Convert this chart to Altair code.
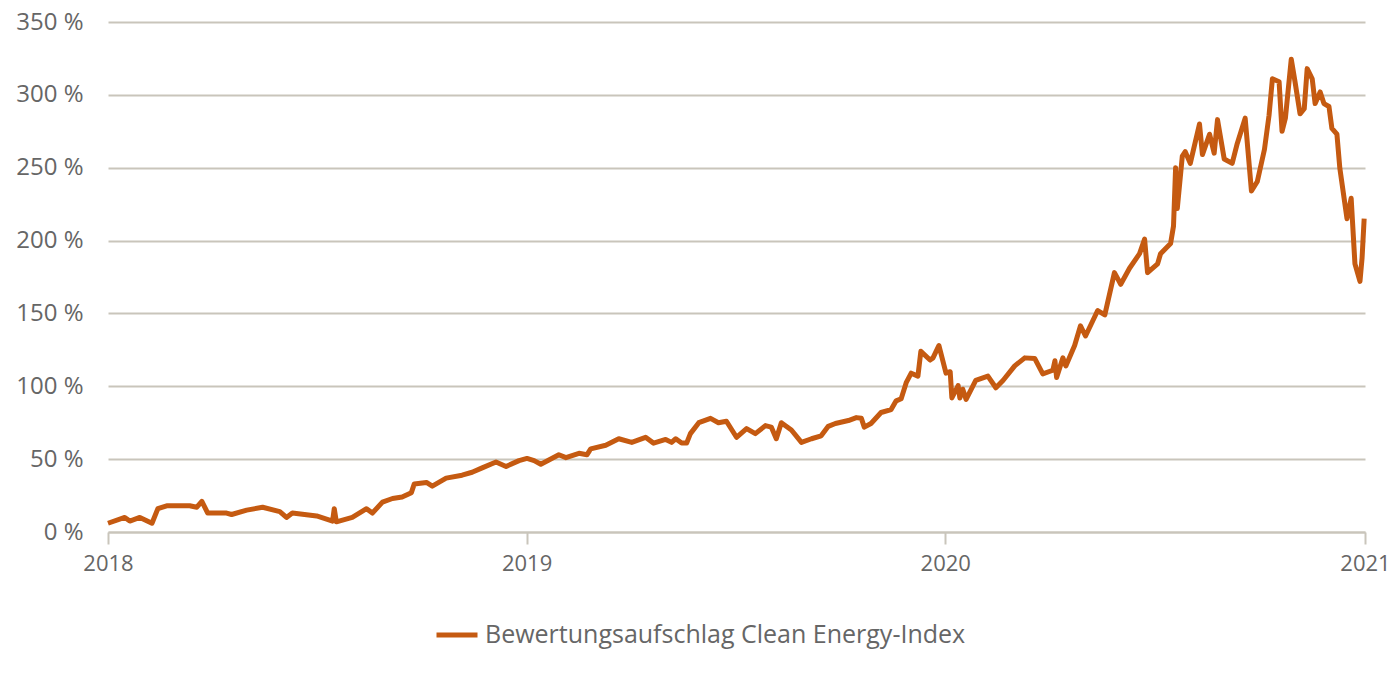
import altair as alt
import pandas as pd
import numpy as np

# x position read as decimal years, value in %
years = [
    2018.000, 2018.040, 2018.052, 2018.076, 2018.105, 2018.119, 2018.140, 2018.195, 2018.212, 2018.224,
    2018.238, 2018.283, 2018.295, 2018.331, 2018.369, 2018.410, 2018.426, 2018.440, 2018.498, 2018.536,
    2018.540, 2018.545, 2018.583, 2018.617, 2018.631, 2018.655, 2018.679, 2018.702, 2018.724, 2018.731,
    2018.760, 2018.774, 2018.807, 2018.845, 2018.869, 2018.893, 2018.926, 2018.950, 2018.981, 2019.000,
    2019.017, 2019.033, 2019.076, 2019.093, 2019.124, 2019.143, 2019.152, 2019.188, 2019.219, 2019.250,
    2019.283, 2019.302, 2019.331, 2019.345, 2019.355, 2019.369, 2019.381, 2019.390, 2019.410, 2019.438,
    2019.457, 2019.476, 2019.500, 2019.524, 2019.545, 2019.569, 2019.583, 2019.595, 2019.607, 2019.631,
    2019.655, 2019.679, 2019.702, 2019.719, 2019.736, 2019.767, 2019.786, 2019.798, 2019.805, 2019.821,
    2019.845, 2019.869, 2019.881, 2019.893, 2019.905, 2019.917, 2019.933, 2019.940, 2019.962, 2019.969,
    2019.983, 2020.000, 2020.010, 2020.014, 2020.029, 2020.033, 2020.040, 2020.048, 2020.071, 2020.100,
    2020.119, 2020.136, 2020.164, 2020.188, 2020.212, 2020.231, 2020.255, 2020.260, 2020.264, 2020.279,
    2020.286, 2020.307, 2020.321, 2020.333, 2020.362, 2020.379, 2020.402, 2020.417, 2020.438, 2020.462,
    2020.474, 2020.481, 2020.505, 2020.512, 2020.536, 2020.543, 2020.548, 2020.552, 2020.564, 2020.571,
    2020.583, 2020.605, 2020.612, 2020.629, 2020.640, 2020.648, 2020.664, 2020.683, 2020.695, 2020.714,
    2020.729, 2020.743, 2020.760, 2020.771, 2020.779, 2020.795, 2020.802, 2020.810, 2020.824, 2020.833,
    2020.845, 2020.855, 2020.862, 2020.874, 2020.881, 2020.893, 2020.902, 2020.914, 2020.921, 2020.933,
    2020.940, 2020.957, 2020.967, 2020.976, 2020.988, 2020.993, 2020.998,
]
premium = [
    6, 10, 7.5, 10, 6, 16, 18, 18, 17, 21,
    13, 13, 12, 15, 17, 14, 10, 13, 11, 7.5,
    16, 7, 10, 16, 13, 20.5, 23, 24, 27, 33,
    34, 31.5, 37, 39, 41, 44, 48, 45, 49, 50.5,
    49, 46.5, 53, 51, 54, 53, 57, 59.5, 64, 61.5,
    65, 61, 63.5, 61.5, 64, 61, 61, 67.5, 75, 78,
    75, 76, 65, 71, 67.5, 73, 72, 64, 75, 70,
    61.5, 64, 66, 72.5, 74.5, 76.5, 78.5, 78, 72, 74.5,
    82, 84, 90, 91.5, 102.5, 109, 107, 124, 118, 119.5,
    128, 109, 110, 92, 100.5, 92, 98, 91, 104, 107,
    99, 104, 114, 119.5, 119, 108.5, 111, 117.5, 106, 119.5,
    114, 128, 141.5, 134.5, 152, 149, 178, 170, 181, 191,
    201, 178, 184, 191, 198, 210, 250, 222, 258, 261,
    253, 280, 259, 273, 260, 283, 256, 253, 266.5, 284,
    234, 240.5, 262.5, 286, 311, 309, 275, 284, 324.5, 309,
    287, 290.5, 318, 311, 294, 302, 294, 292, 277, 273,
    249.5, 215, 229, 184, 172, 188, 215,
]
series_name = "Bewertungsaufschlag Clean Energy-Index"
y_ticks = [0, 50, 100, 150, 200, 250, 300, 350]
x_ticks = ["2018-01-01", "2019-01-01", "2020-01-01", "2021-01-01"]

start = pd.Timestamp("2018-01-01")
span_days = (pd.Timestamp("2021-01-01") - start).days
dates = [start + pd.Timedelta(days=(y - 2018) / 3 * span_days) for y in years]
df = pd.DataFrame({"date": dates, "value": premium, "series": series_name})

FONT = "Open Sans"
LABEL = "#666666"
GRID = "#c9c5bb"
ORANGE = "#c55a11"

chart = alt.Chart(df).mark_line(strokeWidth=5, strokeJoin="round").encode(
    x=alt.X("date:T",
            scale=alt.Scale(domain=[x_ticks[0], x_ticks[-1]]),
            axis=alt.Axis(values=[pd.Timestamp(t) for t in x_ticks], format="%Y", title=None,
                          grid=False, domainColor=GRID, domainWidth=2, tickColor=GRID,
                          tickWidth=2, tickSize=12, labelPadding=9, labelFontSize=22,
                          labelColor=LABEL, labelFont=FONT, labelFlush=False)),
    y=alt.Y("value:Q",
            scale=alt.Scale(domain=[0, 350], nice=False),
            axis=alt.Axis(values=y_ticks, labelExpr="datum.value + ' %'", title=None,
                          domain=False, ticks=False, gridColor=GRID, gridWidth=2,
                          labelPadding=25, labelFontSize=24, labelColor=LABEL, labelFont=FONT)),
    color=alt.Color("series:N", scale=alt.Scale(range=[ORANGE]),
                    legend=alt.Legend(title=None, orient="none", legendX=326, legendY=590,
                                      symbolType="stroke", symbolStrokeWidth=5, symbolSize=1681,
                                      labelFontSize=25, labelColor=LABEL, labelFont=FONT,
                                      labelOffset=5, padding=0, labelLimit=0)),
).properties(
    width=1257, height=510,
    autosize=alt.AutoSizeParams(type="none"),
    padding={"left": 100, "top": 14, "right": 27, "bottom": 130},
).configure_view(stroke=None)

chart.save("out.html", embed_options={"renderer": "svg", "actions": False})
